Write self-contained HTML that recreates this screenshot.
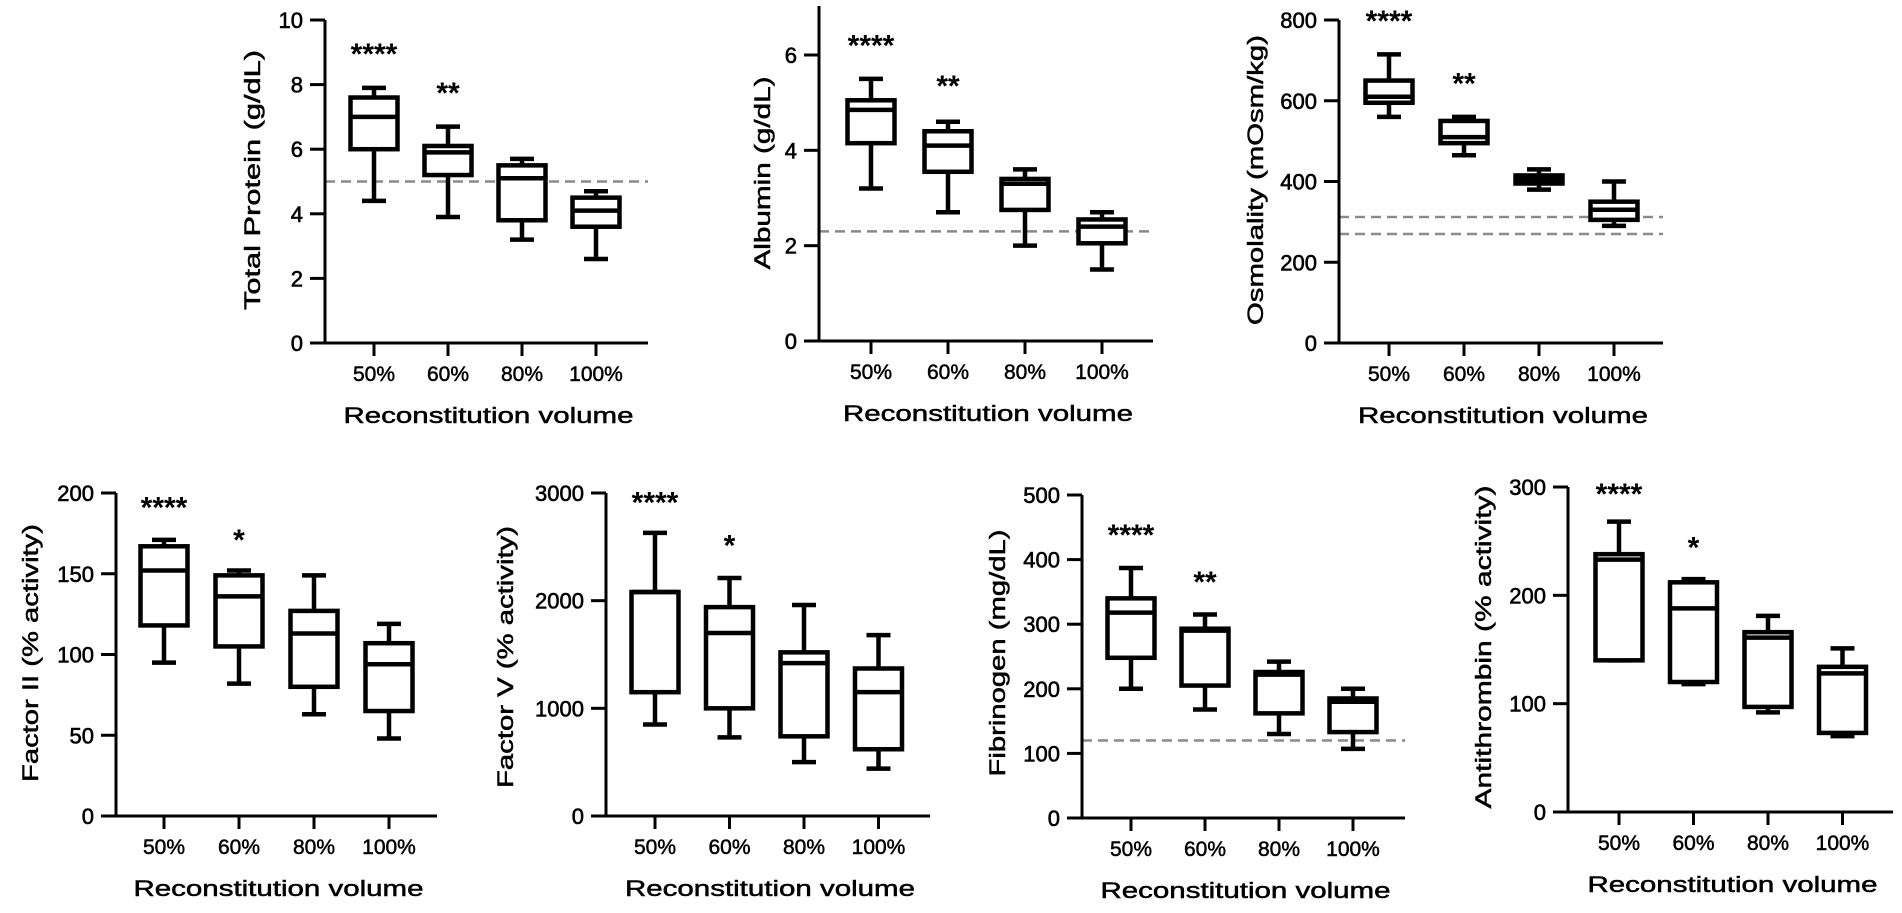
<!DOCTYPE html>
<html><head><meta charset="utf-8"><style>
html,body{margin:0;padding:0;background:#fff;}
svg{display:block;font-family:"Liberation Sans",sans-serif;}
</style></head><body>
<svg id="fig" width="1902" height="913" viewBox="0 0 1902 913" xmlns="http://www.w3.org/2000/svg"></svg>
<script>
const categories = ["50%","60%","80%","100%"];
// Total protein
const tpMin=[4.4,3.9,3.2,2.6], tpQ1=[6.0,5.2,3.8,3.6], tpMed=[7.0,5.9,5.1,4.1], tpQ3=[7.6,6.1,5.5,4.5], tpMax=[7.9,6.7,5.7,4.7];
const tpTicks=[0,2,4,6,8,10], tpRef=[5], tpStars=["****","**"], tpStarY=[9.1,7.9];
// Albumin
const alMin=[3.2,2.7,2.0,1.5], alQ1=[4.15,3.55,2.75,2.05], alMed=[4.85,4.1,3.3,2.4], alQ3=[5.05,4.4,3.4,2.55], alMax=[5.5,4.6,3.6,2.7];
const alTicks=[0,2,4,6], alRef=[2.3], alStars=["****","**"], alStarY=[6.3,5.45];
// Osmolality
const osMin=[560,465,380,290], osQ1=[595,495,395,305], osMed=[610,510,405,330], osQ3=[650,550,415,350], osMax=[715,560,430,400];
const osTicks=[0,200,400,600,800], osRef=[270,312], osStars=["****","**"], osStarY=[810,655];
// Factor II
const f2Min=[95,82,63,48], f2Q1=[118,105,80,65], f2Med=[152,136,113,94], f2Q3=[167,149,127,107], f2Max=[171,152,149,119];
const f2Ticks=[0,50,100,150,200], f2Ref=[], f2Stars=["****","*"], f2StarY=[194,174];
// Factor V
const f5Min=[850,730,500,440], f5Q1=[1150,1000,740,620], f5Med=[2080,1700,1420,1150], f5Q3=[2080,1940,1520,1370], f5Max=[2630,2210,1960,1680];
const f5Ticks=[0,1000,2000,3000], f5Ref=[], f5Stars=["****","*"], f5StarY=[2960,2560];
// Fibrinogen
const fbMin=[200,168,130,107], fbQ1=[248,205,162,133], fbMed=[318,290,222,180], fbQ3=[340,293,226,185], fbMax=[387,315,242,200];
const fbTicks=[0,100,200,300,400,500], fbRef=[120], fbStars=["****","**"], fbStarY=[446,373];
// Antithrombin
const atMin=[140,118,92,70], atQ1=[140,120,97,73], atMed=[233,188,161,128], atQ3=[238,212,166,134], atMax=[268,215,181,151];
const atTicks=[0,100,200,300], atRef=[], atStars=["****","*"], atStarY=[298,249];

const NS="http://www.w3.org/2000/svg";
const svg=document.getElementById('fig');
function mk(tag,attrs,parent){const e=document.createElementNS(NS,tag);for(const k in attrs)e.setAttribute(k,attrs[k]);(parent||svg).appendChild(e);return e;}

const panels=[
 {id:"total-protein",title:"Total Protein (g/dL)",tl:260,tx:252,ty:180,ax:325,y0:343,yTopPx:20,yMax:10,axTopPx:20,xEnd:648,c0:49,step:74,
  mn:tpMin,q1:tpQ1,md:tpMed,q3:tpQ3,mx:tpMax,ticks:tpTicks,ref:tpRef,stars:tpStars,starY:tpStarY},
 {id:"albumin",title:"Albumin (g/dL)",tl:193,tx:762,ty:173,ax:819,y0:341,yTopPx:55,yMax:6,axTopPx:6,xEnd:1153,c0:52,step:77,
  mn:alMin,q1:alQ1,md:alMed,q3:alQ3,mx:alMax,ticks:alTicks,ref:alRef,stars:alStars,starY:alStarY},
 {id:"osmolality",title:"Osmolality (mOsm/kg)",tl:290,tx:1255,ty:180,ax:1339,y0:343,yTopPx:20,yMax:800,axTopPx:20,xEnd:1663,c0:50,step:75,
  mn:osMin,q1:osQ1,md:osMed,q3:osQ3,mx:osMax,ticks:osTicks,ref:osRef,stars:osStars,starY:osStarY},
 {id:"factor-ii",title:"Factor II (% activity)",tl:258,tx:30,ty:653,ax:116,y0:816,yTopPx:493,yMax:200,axTopPx:493,xEnd:437,c0:48,step:75,
  mn:f2Min,q1:f2Q1,md:f2Med,q3:f2Q3,mx:f2Max,ticks:f2Ticks,ref:f2Ref,stars:f2Stars,starY:f2StarY},
 {id:"factor-v",title:"Factor V (% activity)",tl:262,tx:505,ty:657,ax:606,y0:816,yTopPx:493,yMax:3000,axTopPx:493,xEnd:930,c0:49,step:74.5,
  mn:f5Min,q1:f5Q1,md:f5Med,q3:f5Q3,mx:f5Max,ticks:f5Ticks,ref:f5Ref,stars:f5Stars,starY:f5StarY},
 {id:"fibrinogen",title:"Fibrinogen (mg/dL)",tl:247,tx:997,ty:653,ax:1082,y0:818,yTopPx:495,yMax:500,axTopPx:495,xEnd:1405,c0:49,step:74,
  mn:fbMin,q1:fbQ1,md:fbMed,q3:fbQ3,mx:fbMax,ticks:fbTicks,ref:fbRef,stars:fbStars,starY:fbStarY},
 {id:"antithrombin",title:"Antithrombin (% activity)",tl:323,tx:1483,ty:647,ax:1568,y0:812,yTopPx:487,yMax:300,axTopPx:487,xEnd:1893,c0:51,step:74.5,
  mn:atMin,q1:atQ1,md:atMed,q3:atQ3,mx:atMax,ticks:atTicks,ref:atRef,stars:atStars,starY:atStarY}
];

panels.forEach(p=>{
  const g=mk('g',{});
  
  
  const y=v=>p.y0-(v/p.yMax)*(p.y0-p.yTopPx);
  const x=i=>p.ax+p.c0+i*p.step;
  p.ref.forEach(r=>{
    const l=mk('line',{x1:p.ax,x2:p.xEnd,y1:y(r),y2:y(r),stroke:'#8a8a8a','stroke-width':2.5,'stroke-dasharray':'10 6'},g);
    
    
  });
  const ya=mk('line',{x1:p.ax,x2:p.ax,y1:p.axTopPx,y2:p.y0,stroke:'#000','stroke-width':3},g);
  
  
  const xa=mk('line',{x1:p.ax-15,x2:p.xEnd,y1:p.y0,y2:p.y0,stroke:'#000','stroke-width':3},g);
  
  
  p.ticks.forEach(t=>{
    mk('line',{x1:p.ax-15,x2:p.ax,y1:y(t),y2:y(t),stroke:'#000','stroke-width':3},g);
    const tl=mk('text',{x:p.ax-22,y:y(t)+8,'text-anchor':'end','font-size':22,fill:'#000',stroke:'#000','stroke-width':0.6},g);
    tl.textContent=t;
    
    
  });
  categories.forEach((c,i)=>{
    mk('line',{x1:x(i),x2:x(i),y1:p.y0,y2:p.y0+13,stroke:'#000','stroke-width':3},g);
    const cl=mk('text',{x:x(i),y:p.y0+38,'text-anchor':'middle','font-size':21,fill:'#000',stroke:'#000','stroke-width':0.5},g);
    cl.textContent=c;
    
    
  });
  categories.forEach((c,i)=>{
    const bg=mk('g',{fill:'none',stroke:'#000','stroke-width':4.5},g);
    
    
    const cx=x(i), bw=23.5, cw=12;
    mk('line',{x1:cx,x2:cx,y1:y(p.mx[i]),y2:y(p.q3[i])},bg);
    mk('line',{x1:cx,x2:cx,y1:y(p.q1[i]),y2:y(p.mn[i])},bg);
    mk('line',{x1:cx-cw,x2:cx+cw,y1:y(p.mx[i]),y2:y(p.mx[i])},bg);
    mk('line',{x1:cx-cw,x2:cx+cw,y1:y(p.mn[i]),y2:y(p.mn[i])},bg);
    mk('rect',{x:cx-bw,y:y(p.q3[i]),width:2*bw,height:Math.max(0.5,y(p.q1[i])-y(p.q3[i])),fill:'#fff'},bg);
    mk('line',{x1:cx-bw,x2:cx+bw,y1:y(p.md[i]),y2:y(p.md[i])},bg);
  });
  p.stars.forEach((s,i)=>{
    const st=mk('text',{x:x(i),y:y(p.starY[i])+15,'text-anchor':'middle','font-size':30,'font-weight':'bold',fill:'#000'},g);
    st.textContent=s;
    
    
  });
  const xt=mk('text',{x:(p.ax+p.xEnd)/2+2,y:p.y0+80,'text-anchor':'middle','font-size':22,fill:'#000',stroke:'#000','stroke-width':0.5,textLength:290,lengthAdjust:'spacingAndGlyphs'},g);
  xt.textContent='Reconstitution volume';
  
  
  const yt=mk('text',{x:0,y:0,'text-anchor':'middle','font-size':22,fill:'#000',stroke:'#000','stroke-width':0.5,textLength:p.tl,lengthAdjust:'spacingAndGlyphs',transform:`translate(${p.tx+8},${p.ty}) rotate(-90)`},g);
  yt.textContent=p.title;
  
  
});
</script>
</body></html>
